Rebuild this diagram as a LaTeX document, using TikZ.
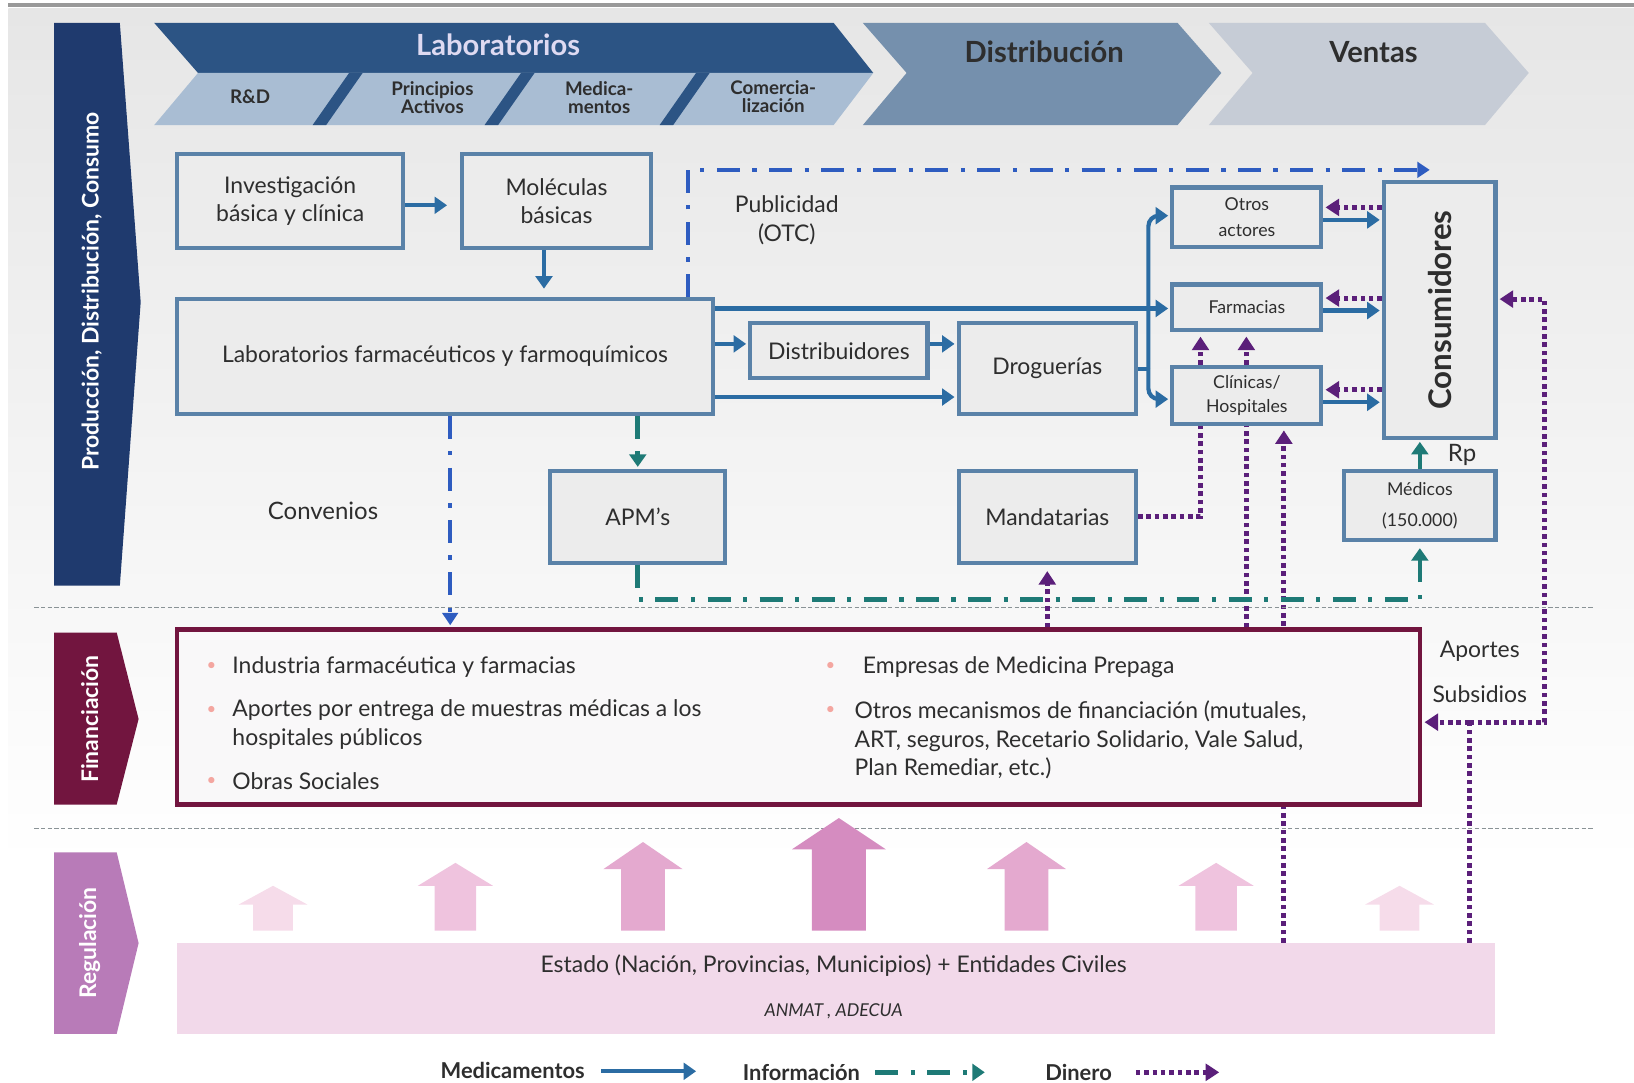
\documentclass[tikz,border=0pt]{standalone}
\usepackage{fontspec}
\setmainfont{Lato}
\usetikzlibrary{arrows.meta,calc}
\definecolor{navy}{HTML}{1F3A6E}
\definecolor{labdark}{HTML}{2C5484}
\definecolor{lablight}{HTML}{A9BDD3}
\definecolor{distc}{HTML}{7590AD}
\definecolor{ventc}{HTML}{C6CCD6}
\definecolor{boxc}{HTML}{5A82A8}
\definecolor{boxfill}{HTML}{ECECEC}
\definecolor{medc}{HTML}{2B6CA3}
\definecolor{infoc}{HTML}{1E7A76}
\definecolor{pubc}{HTML}{2E5CC0}
\definecolor{monc}{HTML}{5B1F7A}
\definecolor{maroon}{HTML}{72153F}
\definecolor{regc}{HTML}{B87BB8}
\definecolor{regfill}{HTML}{F2D9EA}
\definecolor{bullc}{HTML}{F4A6A0}
\definecolor{txt}{HTML}{2E2E2E}
\definecolor{bgtop}{HTML}{E6E6E6}
\definecolor{sepc}{HTML}{8A9396}
\definecolor{pa1}{HTML}{F6DCEA}
\definecolor{pa2}{HTML}{EFC3DE}
\definecolor{pa3}{HTML}{E4A9CF}
\definecolor{pa4}{HTML}{D58CC0}
\pgfdeclarelayer{back}
\pgfdeclarelayer{mid}
\pgfsetlayers{back,mid,main}
\begin{document}
\begin{tikzpicture}[x=0.5pt,y=-0.5pt,
  sz/.style 2 args={minimum width=#1*0.5pt,minimum height=#2*0.5pt},
  box/.style={draw=boxc,line width=2pt,fill=boxfill,inner sep=0pt,align=center,text=txt,font=\fontsize{11}{13.5}\selectfont},
  sbox/.style={box,font=\fontsize{8.5}{12.5}\selectfont},
  lbl/.style={text=txt,align=center,font=\fontsize{11}{14}\selectfont},
  medarr/.style={draw=medc,line width=2pt,-{Triangle[length=6pt,width=8pt]}},
  infoarr/.style={draw=infoc,line width=2.2pt,dash pattern=on 11pt off 6pt on 2pt off 6pt,-{Triangle[length=6pt,width=8pt]}},
  pubarr/.style={draw=pubc,line width=2pt,dash pattern=on 11pt off 6pt on 2pt off 6pt,-{Triangle[length=6pt,width=7.5pt]}},
  monarr/.style={draw=monc,line width=2.4pt,dash pattern=on 2.2pt off 1.8pt,-{Triangle[length=6.5pt,width=8pt]}},
  monline/.style={draw=monc,line width=2.4pt,dash pattern=on 2.2pt off 1.8pt},
  sep/.style={draw=sepc,line width=0.8pt,dash pattern=on 2pt off 1.2pt},
  hdr/.style={font=\fontsize{14}{16}\selectfont\bfseries},
  sub/.style={text=txt,align=center,font=\fontsize{9}{8.5}\selectfont\bfseries},
  bartxt/.style={text=white,rotate=90,font=\fontsize{11}{12}\selectfont\bfseries},
  bul/.style={text=bullc,font=\fontsize{8}{8}\selectfont},
  fintxt/.style={anchor=west,align=left,text=txt,font=\fontsize{11}{13.8}\selectfont},
  legtxt/.style={text=txt,font=\fontsize{10.5}{12}\selectfont\bfseries}
]
\useasboundingbox (0,0) rectangle (1568,1039);
\begin{pgfonlayer}{back}
\shade[top color=bgtop,bottom color=white] (8,8) rectangle (1568,830);
\draw[line width=2pt,black!40] (8,5) -- (1568,5);
\end{pgfonlayer}

% left bars
\fill[navy] (52,22) -- (115,22) -- (135,290) -- (115,562) -- (52,562) -- cycle;
\node[bartxt] (pdc) at (88,280) {Producción, Distribución, Consumo};
\fill[maroon] (52,607) -- (112,607) -- (133,690) -- (112,772) -- (52,772) -- cycle;
\node[bartxt] (finbar) at (86,690) {Financiación};
\fill[regc] (52,818) -- (112,818) -- (133,905) -- (112,992) -- (52,992) -- cycle;
\node[bartxt] (regbar) at (86,905) {Regulación};

% top chevrons
\fill[labdark] (148,22) -- (800,22) -- (838,70) -- (190,70) -- cycle;
\fill[lablight] (190,70) -- (838,70) -- (800,120) -- (148,120) -- cycle;
\fill[labdark] (335,70) -- (348,70) -- (313,120) -- (300,120) -- cycle;
\fill[labdark] (500,70) -- (513,70) -- (478,120) -- (465,120) -- cycle;
\fill[labdark] (668,70) -- (681,70) -- (646,120) -- (633,120) -- cycle;
\node[hdr,text={rgb,255:red,222;green,218;blue,242}] (labh) at (478,43) {Laboratorios};
\node[sub] (rd) at (240,93) {R\&D};
\node[sub] (pa) at (415,94) {Principios\\Activos};
\node[sub] (me) at (575,94) {Medica-\\mentos};
\node[sub] (co) at (742,93) {Comercia-\\lización};
\fill[distc] (828,22) -- (1130,22) -- (1172,70) -- (1130,120) -- (828,120) -- (870,70) -- cycle;
\node[hdr,text=txt] (disth) at (1002,50) {Distribución};
\fill[ventc] (1160,22) -- (1425,22) -- (1467,70) -- (1425,120) -- (1160,120) -- (1202,70) -- cycle;
\node[hdr,text=txt] (venth) at (1318,50) {Ventas};

% separators
\draw[sep] (33,583) -- (1530,583);
\draw[sep] (33,795) -- (1530,795);

% boxes
\node[box,sz={217}{90}] (inv) at (278.5,193) {Investigación\\básica y clínica};
\node[box,sz={182}{90}] (mol) at (534,193) {Moléculas\\básicas};
\node[box,sz={514}{110}] (lab) at (427,342) {Laboratorios farmacéuticos y farmoquímicos};
\node[box,sz={170}{53}] (dist) at (805,336.5) {Distribuidores};
\node[box,sz={170}{87}] (drog) at (1005,353.5) {Droguerías};
\node[sbox,sz={143}{57}] (otros) at (1196.5,208.5) {Otros\\actores};
\node[sbox,sz={143}{44}] (farm) at (1196.5,295) {Farmacias};
\node[sbox,sz={143}{55},font=\fontsize{8.5}{11.5}\selectfont] (clin) at (1196.5,379.5) {Clínicas/\\Hospitales};
\node[box,sz={107}{245}] (cons) at (1381.5,297.5) {};
\node[text=txt,rotate=90,font=\fontsize{15}{16}\selectfont\bfseries] (constxt) at (cons.center) {Consumidores};
\node[box,sz={168}{88}] (apm) at (612,496) {APM's};
\node[box,sz={170}{88}] (mand) at (1005,496) {Mandatarias};
\node[sbox,sz={145}{66},font=\fontsize{8.5}{15}\selectfont] (med) at (1362.5,485) {Médicos\\(150.000)};

% financing box
\node[draw=maroon,line width=2pt,fill={rgb,255:red,249;green,248;blue,249},inner sep=0pt,sz={1193}{168}] (fin) at (766.5,688) {};
\node[bul] (b1) at (203,640) {•};
\node[fintxt] (f1) at (216,640) {Industria farmacéutica y farmacias};
\node[bul] (b2) at (203,682) {•};
\node[fintxt] (f2) at (216,695.5) {Aportes por entrega de muestras médicas a los\\hospitales públicos};
\node[bul] (b3) at (203,750) {•};
\node[fintxt] (f3) at (216,750) {Obras Sociales};
\node[bul] (b4) at (797,640) {•};
\node[fintxt] (f4) at (821,640) {Empresas de Medicina Prepaga};
\node[bul] (b5) at (797,682) {•};
\node[fintxt] (f5) at (813,710) {Otros mecanismos de financiación (mutuales,\\ART, seguros, Recetario Solidario, Vale Salud,\\Plan Remediar, etc.)};

% regulation box
\node[fill=regfill,inner sep=0pt,sz={1265}{87}] (estado) at (802.5,948.5) {};
\node[text=txt,font=\fontsize{11}{13}\selectfont] (est1) at (800,927) {Estado (Nación, Provincias, Municipios) + Entidades Civiles};
\node[text=txt,font=\fontsize{8.5}{10}\selectfont\itshape] (est2) at (800,970) {ANMAT , ADECUA};

% pink regulation arrows
\foreach \cx/\ty/\bw/\hw/\hh/\col in {262/850/38/66/18/pa1, 437/828/40/72/22/pa2, 617/808/42/76/26/pa3, 805/785/52/90/30/pa4, 985/808/42/76/26/pa3, 1167/828/40/72/22/pa2, 1343/850/38/66/18/pa1}{
  \fill[\col] (\cx-\bw/2,893) -- (\cx-\bw/2,\ty+\hh) -- (\cx-\hw/2,\ty+\hh) -- (\cx,\ty) -- (\cx+\hw/2,\ty+\hh) -- (\cx+\bw/2,\ty+\hh) -- (\cx+\bw/2,893) -- cycle;
}

% labels
\node[lbl] (publ) at (755,211) {Publicidad\\(OTC)};
\node[lbl,font=\fontsize{11.5}{14}\selectfont] (conv) at (310,490) {Convenios};
\node[lbl,font=\fontsize{11.5}{14}\selectfont] (rp) at (1403,437) {Rp};
\node[lbl] (aport) at (1420,625) {Aportes};
\node[lbl] (subs) at (1420,666) {Subsidios};

% medicamentos
\draw[medarr,shorten >=6pt] (inv.east |- 0,197) -- (mol.west |- 0,197);
\draw[medarr,shorten >=4pt] (mol.south -| 522,0) -- (lab.north -| 522,0);
\draw[medarr,shorten >=1pt] (lab.east |- 0,330) -- (dist.west |- 0,330);
\draw[medarr,shorten >=1pt] (dist.east |- 0,330) -- (drog.west |- 0,330);
\draw[medarr,shorten >=1pt] (lab.east |- 0,381) -- (drog.west |- 0,381);
\draw[medarr,shorten >=1pt] (lab.east |- 0,296) -- (farm.west |- 0,296);
\coordinate (bus) at (1102,354);
\draw[draw=medc,line width=2pt] (drog.east |- bus) -- (bus);
\draw[medarr,rounded corners=5pt,shorten >=1pt] (bus) |- (otros.west |- 0,207);
\draw[medarr,rounded corners=5pt,shorten >=1pt] (bus) |- (clin.west |- 0,383);
\draw[medarr,shorten >=1pt] (otros.east |- 0,211) -- (cons.west |- 0,211);
\draw[medarr,shorten >=1pt] (farm.east |- 0,298) -- (cons.west |- 0,298);
\draw[medarr,shorten >=1pt] (clin.east |- 0,386) -- (cons.west |- 0,386);

% dinero: consumers to sellers
\draw[monarr,shorten >=1pt] (cons.west |- 0,199) -- (otros.east |- 0,199);
\draw[monarr,shorten >=1pt] (cons.west |- 0,286) -- (farm.east |- 0,286);
\draw[monarr,shorten >=1pt] (cons.west |- 0,374) -- (clin.east |- 0,374);
% mandatarias -> farmacias (behind clinicas)
\draw[monline] (mand.east) -| (clin.south -| 1152,0);
\draw[monarr,shorten >=2pt] (clin.north -| 1152,0) -- (farm.south -| 1152,0);
\draw[monline] (fin.north -| 1196,0) -- (clin.south -| 1196,0);
\draw[monarr,shorten >=2pt] (clin.north -| 1196,0) -- (farm.south -| 1196,0);
\begin{pgfonlayer}{mid}
\draw[monarr,shorten >=2pt] (estado.north -| 1232,0) -- (clin.south -| 1232,0);
\end{pgfonlayer}
\draw[monarr,shorten >=3pt] (fin.north -| 1005,0) -- (mand.south);
\coordinate (jn) at (1410,693);
\draw[monline] (estado.north -| jn) -- (jn);
\draw[monarr,shorten >=1pt] (jn) -- (fin.east |- jn);
\draw[monarr,shorten >=1pt] (jn) -- (1482,693) |- (cons.east |- 0,287);

% informacion
\draw[infoarr,shorten >=1pt] (apm.north |- lab.south) -- (apm.north);
\coordinate (infoturn) at (612,575);
\draw[infoarr,shorten >=3pt] (apm.south) -- (infoturn) -| (med.south);
\draw[infoarr,shorten >=1pt] (med.north) -- (cons.south -| med.north);
\coordinate (pubend) at (1372,163);
\draw[pubarr] (lab.north -| 660,0) |- (pubend);
\draw[pubarr,shorten >=1pt] (lab.south -| 432,0) -- (fin.north -| 432,0);

% legend
\node[legtxt] (lmed) at (492,1027) {Medicamentos};
\coordinate (lm1) at (577,1028);
\coordinate (lm2) at (668,1028);
\draw[medarr] (lm1) -- (lm2);
\node[legtxt] (linf) at (769,1029) {Información};
\coordinate (li1) at (840,1029);
\coordinate (li2) at (945,1029);
\draw[infoarr] (li1) -- (li2);
\node[legtxt] (ldin) at (1035,1029) {Dinero};
\coordinate (ld1) at (1090,1029);
\coordinate (ld2) at (1170,1029);
\draw[monarr] (ld1) -- (ld2);
\end{tikzpicture}
\end{document}
